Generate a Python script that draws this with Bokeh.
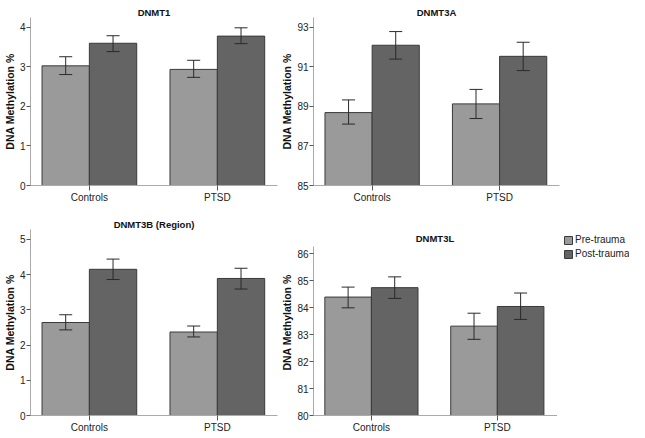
import numpy as np
from bokeh.plotting import figure
from bokeh.layouts import column, row
from bokeh.models import (ColumnDataSource, Range1d, FixedTicker, Whisker, TeeHead,
                          Legend, LegendItem, Label)
from bokeh.embed import file_html
from bokeh.resources import INLINE

categories = ["Controls", "PTSD"]
series_labels = ["Pre-trauma", "Post-trauma"]

dnmt1_pre = [3.02, 2.93]
dnmt1_pre_lo = [2.80, 2.73]
dnmt1_pre_hi = [3.25, 3.16]
dnmt1_post = [3.59, 3.77]
dnmt1_post_lo = [3.38, 3.58]
dnmt1_post_hi = [3.78, 3.98]

dnmt3a_pre = [88.68, 89.12]
dnmt3a_pre_lo = [88.10, 88.38]
dnmt3a_pre_hi = [89.32, 89.85]
dnmt3a_post = [92.08, 91.52]
dnmt3a_post_lo = [91.38, 90.80]
dnmt3a_post_hi = [92.77, 92.23]

dnmt3b_pre = [2.64, 2.37]
dnmt3b_pre_lo = [2.43, 2.23]
dnmt3b_pre_hi = [2.86, 2.54]
dnmt3b_post = [4.15, 3.89]
dnmt3b_post_lo = [3.86, 3.59]
dnmt3b_post_hi = [4.44, 4.18]

dnmt3l_pre = [84.40, 83.32]
dnmt3l_pre_lo = [84.00, 82.83]
dnmt3l_pre_hi = [84.77, 83.80]
dnmt3l_post = [84.75, 84.05]
dnmt3l_post_lo = [84.35, 83.57]
dnmt3l_post_hi = [85.15, 84.55]

FONT = "Liberation Sans"
PRE_COLOR = "#9a9a9a"
POST_COLOR = "#646464"
EDGE = "#3a3a3a"


def panel(title, pre, pre_lo, pre_hi, post, post_lo, post_hi, y0, y1, ticks,
          width, height, bl, br, bt, bb, axis_top=None, title_in_frame=None):
    p = figure(width=width, height=height, output_backend="svg", toolbar_location=None,
               x_range=Range1d(-0.46, 1.47), y_range=Range1d(y0, y1),
               min_border_left=bl, min_border_right=br, min_border_top=bt,
               min_border_bottom=bb)
    p.outline_line_color = None
    p.xgrid.visible = False
    p.ygrid.visible = False
    if title_in_frame is None:
        p.title.text = title
        p.title.align = "center"
        p.title.text_font = FONT
        p.title.text_font_size = "9.5px"
        p.title.text_font_style = "bold"
        p.title.text_color = "#111111"
        p.title.standoff = 0
    else:
        p.add_layout(Label(x=0.505, y=title_in_frame, text=title, text_align="center",
                           text_baseline="middle", text_font=FONT,
                           text_font_size="9.5px", text_font_style="bold",
                           text_color="#111111"))
    x = np.arange(len(categories))
    base = [y0] * len(categories)
    for off, vals, lo, hi, col in [(-0.185, pre, pre_lo, pre_hi, PRE_COLOR),
                                    (0.185, post, post_lo, post_hi, POST_COLOR)]:
        src = ColumnDataSource(dict(x=x + off, top=vals, bottom=base, lo=lo, hi=hi))
        p.vbar(x="x", top="top", bottom="bottom", width=0.37, source=src,
               fill_color=col, line_color=EDGE, line_width=1)
        w = Whisker(base="x", upper="hi", lower="lo", source=src, level="overlay",
                    line_color="#2a2a2a", line_width=1,
                    upper_head=TeeHead(size=13, line_color="#2a2a2a", line_width=1),
                    lower_head=TeeHead(size=13, line_color="#2a2a2a", line_width=1))
        p.add_layout(w)
    p.xaxis.ticker = FixedTicker(ticks=list(range(len(categories))))
    p.xaxis.major_label_overrides = {i: c for i, c in enumerate(categories)}
    p.yaxis.ticker = FixedTicker(ticks=ticks)
    if axis_top is not None:
        p.yaxis.bounds = (y0, axis_top)
    p.yaxis.axis_label = "DNA Methylation %"
    for ax in (p.xaxis, p.yaxis):
        ax.axis_line_color = "#aaaaaa"
        ax.major_tick_line_color = "#555555"
        ax.major_tick_out = 4
        ax.major_tick_in = 0
        ax.minor_tick_line_color = None
        ax.major_label_text_font = FONT
        ax.major_label_text_font_size = "10px"
        ax.major_label_text_color = "#222222"
        ax.major_label_standoff = 1
    p.xaxis.major_tick_out = 5
    p.yaxis.axis_label_text_font = FONT
    p.yaxis.axis_label_text_font_size = "10.5px"
    p.yaxis.axis_label_text_font_style = "bold"
    p.yaxis.axis_label_text_color = "#111111"
    p.yaxis.axis_label_standoff = 1
    return p


p1 = panel("DNMT1", dnmt1_pre, dnmt1_pre_lo, dnmt1_pre_hi, dnmt1_post, dnmt1_post_lo,
           dnmt1_post_hi, 0, 4.24, [0, 1, 2, 3, 4], 278, 212, 24, 1, 17, 27)
p2 = panel("DNMT3A", dnmt3a_pre, dnmt3a_pre_lo, dnmt3a_pre_hi, dnmt3a_post,
           dnmt3a_post_lo, dnmt3a_post_hi, 85, 93.48, [85, 87, 89, 91, 93],
           351, 212, 31, 70, 17, 27)
p3 = panel("DNMT3B (Region)", dnmt3b_pre, dnmt3b_pre_lo, dnmt3b_pre_hi, dnmt3b_post,
           dnmt3b_post_lo, dnmt3b_post_hi, 0, 5.28, [0, 1, 2, 3, 4, 5],
           278, 223, 24, 1, 17, 20)
p4 = panel("DNMT3L", dnmt3l_pre, dnmt3l_pre_lo, dnmt3l_pre_hi, dnmt3l_post,
           dnmt3l_post_lo, dnmt3l_post_hi, 80, 86.91,
           [80, 81, 82, 83, 84, 85, 86], 278, 223, 31, 0, 17, 20,
           axis_top=86.28, title_in_frame=86.57)

# legend panel (swatch renderers sit outside the visible range; only their legend
# glyphs are shown)
pleg = figure(width=73, height=223, output_backend="svg", toolbar_location=None,
              x_axis_type=None, y_axis_type=None,
              x_range=Range1d(0, 1), y_range=Range1d(0, 1),
              min_border_left=0, min_border_right=0, min_border_top=17,
              min_border_bottom=20)
pleg.outline_line_color = None
pleg.xgrid.visible = False
pleg.ygrid.visible = False
hidden = ColumnDataSource(dict(x=[-5.0], top=[-5.0], bottom=[-6.0]))
lr_pre = pleg.vbar(x="x", top="top", bottom="bottom", width=0.1, source=hidden,
                   fill_color=PRE_COLOR, line_color=EDGE)
lr_post = pleg.vbar(x="x", top="top", bottom="bottom", width=0.1, source=hidden,
                    fill_color=POST_COLOR, line_color=EDGE)
legend = Legend(items=[LegendItem(label=series_labels[0], renderers=[lr_pre]),
                       LegendItem(label=series_labels[1], renderers=[lr_post])],
                location=(7, 156), border_line_color=None, background_fill_alpha=0,
                padding=0, margin=0, spacing=3, glyph_width=10, glyph_height=10,
                label_height=10, label_standoff=2, label_text_font=FONT,
                label_text_font_size="10px", label_text_color="#222222")
pleg.add_layout(legend)

layout = column(row(p1, p2), row(p3, p4, pleg))
open("out.html", "w").write(file_html(layout, INLINE))
